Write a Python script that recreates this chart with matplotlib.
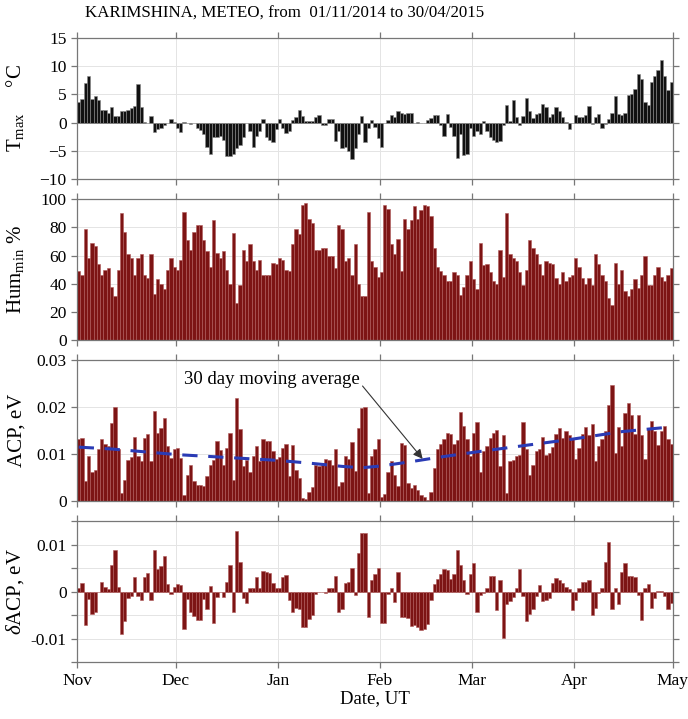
import numpy as np
import pandas as pd
import matplotlib
matplotlib.use("Agg")
import matplotlib.pyplot as plt
import matplotlib.dates as mdates

plt.rcParams['font.family'] = ['Liberation Serif', 'DejaVu Serif']
plt.rcParams['mathtext.fontset'] = 'custom'
plt.rcParams['mathtext.rm'] = 'Liberation Serif'
plt.rcParams['mathtext.it'] = 'Liberation Serif:italic'

# daily values, 01/11/2014 .. 30/04/2015
tmax = [3.6, 4.2, 7.1, 8.3, 4.2, 4.7, 4.0, 2.3, 2.3, 1.8,
        2.8, 1.1, 1.1, 2.0, 2.0, 2.3, 2.6, 2.9, 6.8, 2.8,
        0.2, 0, 1.1, -1.6, -1.1, -1.0, -0.4, 0, 0.6, 0.2,
        -1.0, -1.6, 0.1, -0.1, -0.3, 0, -1.0, -1.3, -2.0, -4.3,
        -5.5, -2.5, -2.5, -2.3, -3.0, -6.0, -6.0, -5.5, -4.5, -4.0,
        -2.5, 0, -1.5, -4.3, -2.3, -1.5, 0.7, -2.5, -3.0, -3.5,
        -1.2, 0.7, -1.0, -1.8, -1.5, 0.5, 1.0, 2.3, 1.1, 0.3,
        0.3, 0.3, 1.0, 1.3, -0.5, -0.5, 0.7, 0.6, -3.3, -1.5,
        -4.5, -4.3, -5.0, -6.5, -4.5, -2.0, 1.2, -3.5, -1.0,
        0.5, -0.8, -2.7, -4.3, 0, 0.5, 1.3, 1.0, 2.0, 1.8,
        1.5, 1.8, 1.8, 0, 0.2, 0, 0, 0.4, 0.8, 1.3,
        1.3, -0.4, -2.3, 1.5, -0.8, -2.3, -6.3, -2.0, -5.8, -5.5,
        -1.0, -2.3, -1.5, -2.0, 0.3, -1.5, -2.5, -3.0, -3.5, -3.3,
        -0.5, 3.1, 0.3, 4.0, 1.0, -0.5, 1.2, 4.3, 2.0, 0.8,
        1.5, 1.8, 3.3, 2.8, 1.0, 1.5, 2.8, 2.0, 1.0, 0.2,
        -1.2, 0, 1.4, 1.0, 1.0, 1.3, 3.0, -0.2, 1.0, 1.5,
        -1.0, -0.3, 0.6, 1.7, 4.8, 1.5, 1.3, 1.7, 4.9, 5.0,
        6.0, 8.7, 7.7, 3.7, 3.2, 7.3, 8.3, 9.3, 11.2, 8.3, 5.8, 7.3]

hum = [49, 46, 79, 58, 69, 67, 54, 46, 50, 51,
       38, 31, 50, 90, 77, 61, 58, 46, 58, 61,
       46, 44, 61, 33, 43, 40, 36, 50, 58, 52,
       50, 57, 91, 71, 64, 77, 82, 82, 71, 63,
       52, 85, 62, 58, 63, 50, 40, 76, 26, 39,
       64, 56, 68, 56, 50, 57, 46, 46, 46, 55,
       54, 58, 57, 50, 49, 68, 79, 75, 96, 97,
       86, 83, 64, 64, 65, 65, 60, 60, 51, 82,
       79, 56, 58, 46, 68, 40, 31, 31, 91,
       56, 52, 45, 48, 96, 93, 68, 61, 72, 49,
       86, 79, 85, 95, 86, 92, 96, 95, 88, 65,
       52, 49, 46, 42, 42, 48, 46, 32, 38, 46,
       56, 43, 36, 69, 53, 54, 48, 42, 40, 64,
       45, 90, 61, 58, 56, 48, 39, 50, 71, 65,
       61, 54, 46, 56, 55, 54, 44, 40, 48, 42,
       45, 46, 58, 52, 44, 40, 44, 39, 61, 54,
       46, 42, 30, 25, 55, 40, 50, 35, 31, 36,
       43, 37, 46, 60, 39, 39, 46, 52, 45, 42,
       46, 51]

acp = [0.0132, 0.0135, 0.0042, 0.0096, 0.0063, 0.0067, 0.0110, 0.0133, 0.0121, 0.0117,
       0.0166, 0.0200, 0.0112, 0.0017, 0.0045, 0.0088, 0.0094, 0.0137, 0.0096, 0.0085,
       0.0135, 0.0142, 0.0085, 0.0191, 0.0145, 0.0155, 0.0177, 0.0117, 0.0092, 0.0112,
       0.0114, 0.0092, 0.0014, 0.0056, 0.0078, 0.0042, 0.0035,
       0.0035, 0.0032, 0.0054, 0.0076, 0.0088, 0.0128, 0.0109, 0.0078, 0.0114, 0.0146,
       0.0045, 0.0219, 0.0153, 0.0074, 0.0088, 0.0063, 0.0096, 0.0117, 0.0085, 0.0132,
       0.0128, 0.0128, 0.0106, 0.0090, 0.0094, 0.0114, 0.0121, 0.0054,
       0.0120, 0.0067, 0.0050, 0.0006, 0.0004, 0.0020, 0.0030, 0.0076, 0.0074, 0.0076,
       0.0089, 0.0087, 0.0076, 0.0112, 0.0032, 0.0040, 0.0096, 0.0090, 0.0126, 0.0065,
       0.0155, 0.0198, 0.0200, 0.0017, 0.0096, 0.0112, 0.0133, 0.0009, 0.0015, 0.0061,
       0.0085, 0.0056, 0.0032, 0.0124, 0.0119, 0.0038, 0.0027, 0.0035, 0.0024, 0.0013,
       0.0008, 0.0002, 0.0020, 0.0070, 0.0110, 0.0121, 0.0132, 0.0145,
       0.0142, 0.0121, 0.0130, 0.0189, 0.0159, 0.0132, 0.0097, 0.0146, 0.0169, 0.0063,
       0.0106, 0.0117, 0.0135, 0.0146, 0.0152, 0.0074, 0.0140, 0.0017, 0.0085, 0.0088,
       0.0096, 0.0099, 0.0169, 0.0110, 0.0056, 0.0076, 0.0106, 0.0110, 0.0137, 0.0099,
       0.0103, 0.0116, 0.0142, 0.0155, 0.0135, 0.0150, 0.0140, 0.0133, 0.0090, 0.0114,
       0.0142, 0.0157, 0.0140, 0.0164, 0.0085, 0.0117, 0.0133, 0.0150, 0.0205, 0.0248,
       0.0103, 0.0157, 0.0117, 0.0188, 0.0209, 0.0183, 0.0142, 0.0183, 0.0140, 0.0090,
       0.0155, 0.0171, 0.0150, 0.0119, 0.0150, 0.0159, 0.0133, 0.0121]

dacp = [0.0009, 0.0019, -0.0071, -0.0016, -0.0048, -0.0044, 0.0, 0.0020, 0.0011, 0.0006,
        0.0056, 0.0089, 0.0011, -0.0089, -0.0062, -0.0014, -0.0010, 0.0031, -0.0009, -0.0017,
        0.0031, 0.0040, -0.0017, 0.0088, 0.0049, 0.0054, 0.0076, 0.0016, -0.0005, 0.0011,
        0.0016, 0.0014, -0.0079, -0.0016, -0.0044, -0.0051, -0.0060, -0.0060, -0.0016, -0.0037,
        0.0013, -0.0066, -0.0012, -0.0001, -0.0012, 0.0021, 0.0056, -0.0044, 0.0129, 0.0064,
        -0.0014, -0.0023, 0.0009, 0.0009, 0.0031, 0.0009, 0.0045, 0.0043, 0.0040, 0.0019,
        0.0009, 0.0007, 0.0031, 0.0036, -0.0017, -0.0044, -0.0034, -0.0037, -0.0076, -0.0076,
        -0.0059, -0.0050, -0.0005, -0.0001, -0.0001, -0.0003, 0.0007, 0.0007, 0.0033, -0.0044,
        -0.0036, 0.0019, 0.0020, 0.0050, -0.0007, 0.0083, 0.0126, 0.0126, -0.0053, 0.0026,
        0.0038,
        0.0050, -0.0067, -0.0066, -0.0005, 0.0007, -0.0021, 0.0043, -0.0053, -0.0053, -0.0055,
        -0.0074, -0.0071, -0.0076, -0.0081, -0.0080, -0.0069, -0.0017, 0.0016, 0.0027, 0.0038,
        0.0049, 0.0047, 0.0027, 0.0038, 0.0088, 0.0057, 0.0026, -0.0005, 0.0038, 0.0061,
        -0.0044, -0.0007, -0.0003, 0.0009, 0.0033, 0.0034, -0.0039, 0.0024, -0.0098, -0.0026,
        -0.0019, -0.0012, 0.0007, 0.0049, -0.0010, -0.0062, -0.0048, -0.0036, -0.0009, 0.0014,
        -0.0019, -0.0017, -0.0014, 0.0019, 0.0029, 0.0024, 0.0019, 0.0011, 0.0006, -0.0039,
        -0.0017, 0.0007, 0.0021, 0.0021, 0.0026, -0.0050, -0.0034, -0.0003, 0.0009, 0.0063,
        0.0106, -0.0037, 0.0009, -0.0026, 0.0041, 0.0061, 0.0034, 0.0034, 0.0031, -0.0007,
        -0.0060, 0.0009, 0.0016, -0.0034, -0.0014, 0.0002, 0.0002, -0.0010, -0.0036, -0.0025]

# 30 day moving average, read at a few days
ma_day = [0, 10, 20, 30, 40, 50, 60, 70, 80, 86, 92, 100, 110, 120, 135, 150, 165, 180]
ma_val = [0.0115, 0.0111, 0.0105, 0.0099, 0.0095, 0.0091, 0.0087, 0.0081, 0.0074, 0.0071,
          0.0075, 0.0083, 0.0094, 0.0104, 0.0118, 0.0132, 0.0148, 0.0158]

assert len(tmax) == len(hum) == len(acp) == len(dacp) == 181, (len(tmax), len(hum), len(acp), len(dacp))

days = pd.date_range('2014-11-01', '2015-04-30', freq='D')
start = days[0]
ma_dates = [start + pd.Timedelta(days=d + 0.5) for d in ma_day]

red = '#7d1414'
fig = plt.figure(figsize=(6.88, 7.19), dpi=100)
L, W, H = 0.112, 0.866, 0.196
bottoms = [0.751, 0.527, 0.303, 0.079]
axes = [fig.add_axes([L, b, W, H]) for b in bottoms]

axes[0].bar(days, tmax, width=1.0, align='edge', color='#111111', edgecolor='#8a8a8a', linewidth=0.4)
axes[1].bar(days, hum, width=1.0, align='edge', color=red, edgecolor='#b05a5a', linewidth=0.4)
axes[2].bar(days, acp, width=1.0, align='edge', color=red, edgecolor='#b05a5a', linewidth=0.4)
axes[2].plot(ma_dates, ma_val, color='#2a3bb5', lw=2.2, dashes=(5, 3.5))
axes[3].bar(days, dacp, width=1.0, align='edge', color=red, edgecolor='#b05a5a', linewidth=0.4)

axes[0].set_ylim(-10, 15)
axes[0].set_yticks([-10, -5, 0, 5, 10, 15])
axes[1].set_ylim(0, 100)
axes[1].set_yticks([0, 20, 40, 60, 80, 100])
axes[2].set_ylim(0, 0.03)
axes[2].set_yticks([0, 0.01, 0.02, 0.03])
axes[2].set_yticklabels(['0', '0.01', '0.02', '0.03'])
axes[3].set_ylim(-0.015, 0.015)
axes[3].set_yticks([-0.015, -0.01, -0.005, 0, 0.005, 0.01, 0.015])
axes[3].set_yticklabels(['', '-0.01', '', '0', '', '0.01', ''])

ylabels = [r'T$_{\mathrm{max}}$     °C', r'Hum$_{\mathrm{min}}$ %', 'ACP, eV', r'$\it{\delta}$ACP, eV']
for ax, lab in zip(axes, ylabels):
    ax.set_xlim(pd.Timestamp('2014-11-01'), pd.Timestamp('2015-05-01'))
    ax.xaxis.set_major_locator(mdates.MonthLocator())
    ax.xaxis.set_major_formatter(mdates.DateFormatter('%b'))
    ax.grid(True, color='#e4e4e4', lw=0.7)
    ax.set_axisbelow(True)
    for s in ax.spines.values():
        s.set_color('#777777')
        s.set_linewidth(0.9)
    ax.tick_params(direction='out', length=4, width=0.9, color='#777777',
                   top=True, right=True, labelsize=12.5)
    ax.set_ylabel(lab, fontsize=15)
    ax.yaxis.set_label_coords(-0.085, 0.5)
    if ax is not axes[3]:
        ax.tick_params(labelbottom=False)

axes[3].set_xlabel('Date, UT', fontsize=13.5, labelpad=1)

axes[2].annotate('30 day moving average', xy=(0.58, 0.30), xytext=(0.327, 0.865),
                 xycoords='axes fraction', textcoords='axes fraction',
                 ha='center', va='center', fontsize=13.5,
                 arrowprops=dict(arrowstyle='-|>', color='#333333', lw=0.8,
                                 mutation_scale=14, shrinkA=0, shrinkB=0,
                                 relpos=(1.0, 0.3)))

fig.text(285 / 688, 1 - 14 / 719, 'KARIMSHINA, METEO, from  01/11/2014 to 30/04/2015',
         ha='center', va='center', fontsize=12.2)

fig.savefig('out.png', dpi=100)
